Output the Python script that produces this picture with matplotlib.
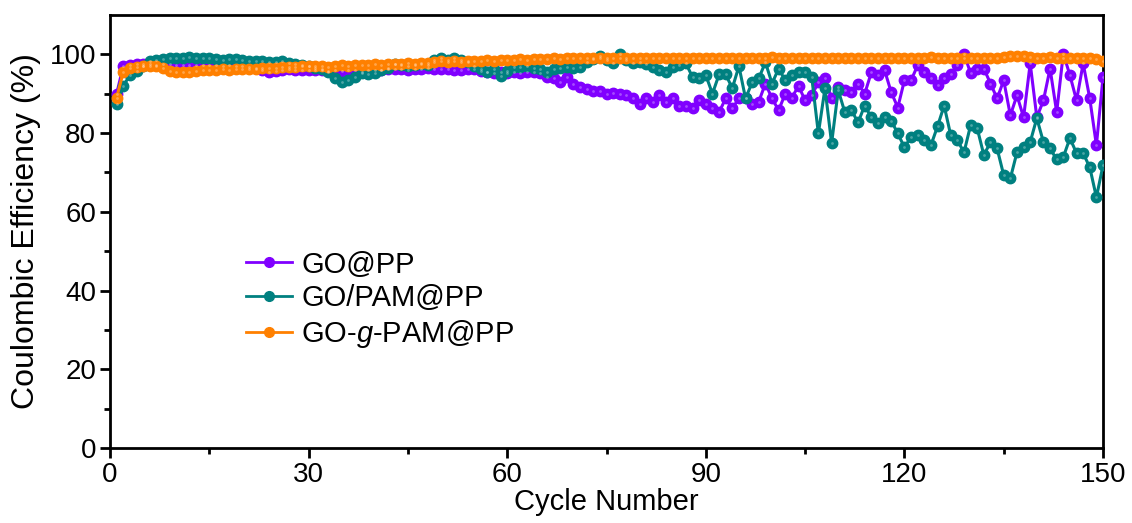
import numpy as np
import matplotlib
matplotlib.use('Agg')
import matplotlib.pyplot as plt

plt.rcParams['font.family'] = ['Liberation Sans', 'DejaVu Sans']
plt.rcParams['mathtext.fontset'] = 'custom'
plt.rcParams['mathtext.rm'] = 'Liberation Sans'
plt.rcParams['mathtext.it'] = 'Liberation Sans:italic'

# data
cycles = np.arange(1, 151)

go_pp = [
    90.0, 97.0, 97.3, 97.5, 97.6, 97.5, 97.4, 97.6, 97.5, 97.4,
    97.3, 97.4, 97.3, 97.2, 97.3, 97.2, 97.1, 97.2, 97.0, 97.1,
    96.8, 96.5, 96.0, 95.6, 95.8, 96.0, 96.2, 96.0, 96.1, 96.0,
    96.0, 96.1, 95.9, 96.0, 95.8, 96.0, 96.1, 95.6, 96.0, 96.1,
    96.0, 96.2, 96.3, 96.2, 96.0, 96.2, 96.4, 96.5, 96.4, 96.3,
    96.2, 96.0, 96.1, 96.4, 96.2, 95.8, 95.4, 95.2, 95.6, 95.2,
    95.4, 95.2, 95.4, 95.6, 95.2, 94.2, 93.9, 92.9, 94.2, 92.6,
    91.6, 91.2, 90.8, 90.6, 90.0, 90.2, 90.0, 89.6, 88.8, 87.5,
    89.0, 88.0, 89.6, 88.0, 89.0, 87.0, 87.0, 86.3, 88.3, 87.5,
    86.3, 85.3, 88.8, 86.3, 88.8, 89.0, 87.5, 88.0, 92.6, 88.8,
    85.8, 90.0, 89.0, 92.0, 88.3, 89.6, 92.9, 94.0, 88.8, 91.6,
    91.0, 90.4, 92.6, 90.0, 95.4, 94.7, 96.0, 90.4, 86.5, 93.4,
    93.4, 97.2, 95.4, 93.9, 92.1, 93.9, 95.0, 97.2, 100.2, 95.2,
    96.4, 96.4, 92.6, 88.8, 93.4, 84.5, 89.6, 84.0, 97.7, 84.0,
    88.3, 96.4, 85.3, 100.2, 94.7, 88.3, 97.7, 88.8, 76.9, 94.2,
]

go_pam_pp = [
    87.5, 92.0, 94.7, 95.8, 97.0, 98.3, 98.6, 98.8, 99.0, 99.2,
    99.2, 99.3, 99.1, 99.0, 99.2, 98.8, 98.6, 98.7, 98.9, 98.6,
    98.3, 98.2, 98.4, 98.1, 98.0, 98.2, 97.8, 97.5, 97.2, 97.0,
    96.6, 96.4, 95.6, 93.9, 92.9, 93.4, 94.2, 95.2, 95.0, 95.2,
    96.0, 96.5, 97.5, 97.2, 97.0, 97.3, 97.6, 97.4, 98.5, 99.2,
    98.6, 99.2, 98.5, 98.0, 97.0, 96.2, 95.6, 96.3, 94.6, 95.8,
    96.7, 96.8, 97.0, 96.5, 96.2, 95.4, 96.4, 96.6, 96.7, 96.5,
    96.7, 98.0, 98.8, 99.7, 98.5, 97.7, 100.2, 98.5, 97.7, 98.0,
    97.5, 96.7, 96.0, 95.4, 96.7, 97.2, 97.7, 94.2, 93.9, 94.7,
    90.0, 94.9, 94.9, 91.4, 97.0, 88.8, 92.9, 93.9, 98.0, 92.6,
    96.4, 93.4, 94.7, 95.4, 95.4, 94.2, 79.9, 91.4, 77.4, 90.9,
    85.3, 85.8, 82.7, 87.0, 84.0, 82.5, 84.0, 83.2, 79.9, 76.4,
    79.0, 79.4, 78.2, 76.9, 81.7, 87.0, 79.4, 78.2, 75.1, 82.0,
    81.2, 74.4, 77.7, 76.1, 69.3, 68.5, 75.1, 76.4, 77.7, 83.8,
    77.7, 76.1, 73.3, 73.9, 78.7, 74.9, 74.9, 71.3, 63.7, 71.8,
]

go_g_pam_pp = [
    89.0, 95.5, 96.5, 96.8, 97.0, 97.1, 97.0, 96.6, 95.8, 95.5,
    95.4, 95.5, 95.8, 96.0, 96.1, 96.0, 96.2, 96.1, 96.2, 96.3,
    96.3, 96.4, 96.5, 96.6, 96.5, 96.7, 96.8, 96.9, 97.0, 97.0,
    97.0, 97.1, 96.9, 97.0, 97.2, 97.1, 97.3, 97.2, 97.4, 97.5,
    97.4, 97.5, 97.6, 97.5, 97.7, 97.6, 97.8, 97.9, 98.0, 98.2,
    98.0, 98.2, 98.1, 98.3, 98.4, 98.3, 98.5, 98.4, 98.5, 98.6,
    98.5, 98.7, 98.6, 98.8, 98.7, 98.9, 99.0, 98.9, 99.1, 99.0,
    99.2, 99.1, 99.0, 99.2, 99.1, 99.0, 99.2, 99.1, 99.0, 99.1,
    99.2, 99.0, 99.1, 99.2, 99.0, 99.1, 99.2, 99.1, 99.0, 99.2,
    99.1, 99.0, 99.1, 99.2, 99.1, 99.0, 99.2, 99.1, 99.2, 99.3,
    99.1, 99.2, 99.0, 99.1, 99.2, 99.1, 99.0, 99.1, 99.2, 99.1,
    99.0, 99.1, 99.2, 99.1, 99.0, 99.1, 99.2, 99.1, 99.0, 99.1,
    99.2, 99.1, 99.2, 99.3, 99.1, 99.2, 99.1, 99.0, 99.2, 99.1,
    99.2, 99.0, 99.1, 99.2, 99.4, 99.6, 99.7, 99.5, 99.3, 99.2,
    99.1, 99.3, 99.2, 99.1, 99.2, 99.0, 99.1, 99.0, 98.8, 98.4,
]

labels = ['GO@PP', 'GO/PAM@PP', 'GO-$\\it{g}$-PAM@PP']
colors = ['#8000FF', '#008080', '#FF8000']
series = [go_pp, go_pam_pp, go_g_pam_pp]

fig = plt.figure(figsize=(11.32, 5.23), dpi=100)
ax = fig.add_axes([0.0972, 0.1434, 0.8772, 0.8279])

handles = []
for y, c, lab in zip(series, colors, labels):
    ax.plot(cycles, y, '-', color=c, lw=2.2, marker='o', ms=7.5,
            mec=c, mfc=c, zorder=3)
    # faint shine on each ball
    ax.plot(cycles, y, 'o', ls='none', ms=2.0, mfc='white', mec='none',
            alpha=0.3, zorder=4)
    h, = ax.plot([], [], '-', color=c, lw=2.0, marker='o', ms=7, label=lab)
    handles.append(h)

ax.set_xlim(0, 150)
ax.set_ylim(0, 110)
ax.set_xticks([0, 30, 60, 90, 120, 150])
ax.set_xticks([15, 45, 75, 105, 135], minor=True)
ax.set_yticks([0, 20, 40, 60, 80, 100])
ax.set_yticks([10, 30, 50, 70, 90], minor=True)

for s in ax.spines.values():
    s.set_linewidth(2.0)
ax.tick_params(which='major', direction='out', length=7, width=2, labelsize=20, pad=3)
ax.tick_params(which='minor', direction='out', length=4, width=2)
ax.tick_params(top=False, right=False, which='both')

ax.set_xlabel('Cycle Number', fontsize=21, labelpad=0)
ax.set_ylabel('Coulombic Efficiency (%)', fontsize=23, labelpad=6)

ax.legend(handles=handles, loc='upper left', bbox_to_anchor=(0.125, 0.483),
          frameon=False, fontsize=21, handlelength=1.6, handletextpad=0.3,
          labelspacing=0.2, borderaxespad=0)

fig.savefig('out.png', dpi=100)
